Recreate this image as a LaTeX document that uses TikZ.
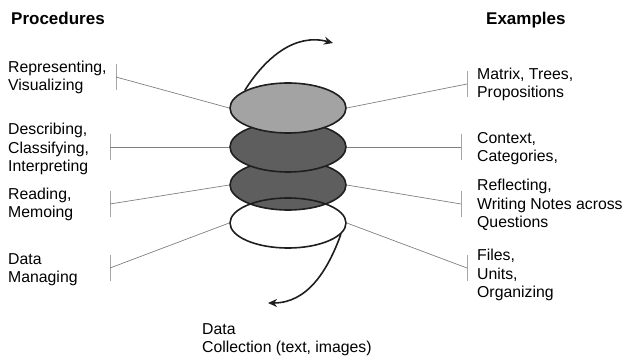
\documentclass[tikz,border=0pt]{standalone}
\usepackage{fontspec}
\setmainfont{Liberation Sans}
\usetikzlibrary{shapes.geometric, arrows.meta, positioning}
\tikzset{
  disc/.style={ellipse, draw=black!88, line width=1.6pt, minimum width=116pt,
               minimum height=50pt, inner sep=0pt},
  head/.style={font=\fontsize{17}{20}\selectfont\bfseries, inner sep=0pt,
               anchor=base west},
  txt/.style={font=\fontsize{15.8}{18.8}\selectfont, align=left, inner sep=0pt,
              anchor=base west},
  arrow/.style={-{Stealth[length=9pt,width=8pt]}, draw=black!88, line width=1.6pt},
  leader/.style={draw=black!50, line width=0.7pt},
  tick/.style={draw=black!35, line width=0.9pt},
}

\begin{document}
\begin{tikzpicture}[x=1pt, y=-1pt]
  \useasboundingbox (0,0) rectangle (625,358);

  % Headings
  \node[head] (procedures) at (11,25) {Procedures};
  \node[head] (examples) at (486,25) {Examples};

  % Stack of layers (lowest filled one first, open one last)
  \node[disc, fill=black!63] (memo) at (288,185) {};
  \node[disc, fill=black!63] (category) at (288,147) {};
  \node[disc, fill=black!36] (visual) at (288,108) {};
  \node[disc] (raw) at (288,223) {};

  % Bracket points
  \coordinate (pv) at (116,77);
  \coordinate (pc) at (110,147);
  \coordinate (pm) at (110,204);
  \coordinate (pd) at (110,268);
  \coordinate (ev) at (467,84);
  \coordinate (ec) at (461,147);
  \coordinate (em) at (461,204);
  \coordinate (ed) at (467,268);
  \foreach \p in {pv,pc,pm,pd,ev,ec,em,ed}
    \draw[tick] ([yshift=-13pt]\p) -- ([yshift=13pt]\p);

  % Leaders
  \draw[leader] (pv) -- (visual.west);
  \draw[leader] (pc) -- (category.west);
  \draw[leader] (pm) -- (memo.west);
  \draw[leader] (pd) -- (raw.west);
  \draw[leader] (visual.east) -- (ev);
  \draw[leader] (category.east) -- (ec);
  \draw[leader] (memo.east) -- (em);
  \draw[leader] (raw.east) -- (ed);

  % Procedures (placed by their last line)
  \node[txt] (t-visual) at (8,91) {Representing,\\Visualizing};
  \node[txt] (t-category) at (8,172) {Describing,\\Classifying,\\Interpreting};
  \node[txt] (t-memo) at (8,218) {Reading,\\Memoing};
  \node[txt] (t-raw) at (8,283) {Data\\Managing};

  % Examples
  \node[txt] (x-visual) at (477,98) {Matrix, Trees,\\Propositions};
  \node[txt] (x-category) at (477,162) {Context,\\Categories,};
  \node[txt] (x-memo) at (477,228) {Reflecting,\\Writing Notes across\\Questions};
  \node[txt] (x-raw) at (477,298) {Files,\\Units,\\Organizing};

  % Spiral in and out
  \coordinate (up) at (333,43);
  \coordinate (down) at (268,303);
  \draw[arrow] (visual.158) to[out=58, in=165] (up);
  \draw[arrow] (raw.-12) to[out=-110, in=0] (down);

  \node[txt] (collection) at (202,353) {Data\\Collection (text, images)};
\end{tikzpicture}
\end{document}
